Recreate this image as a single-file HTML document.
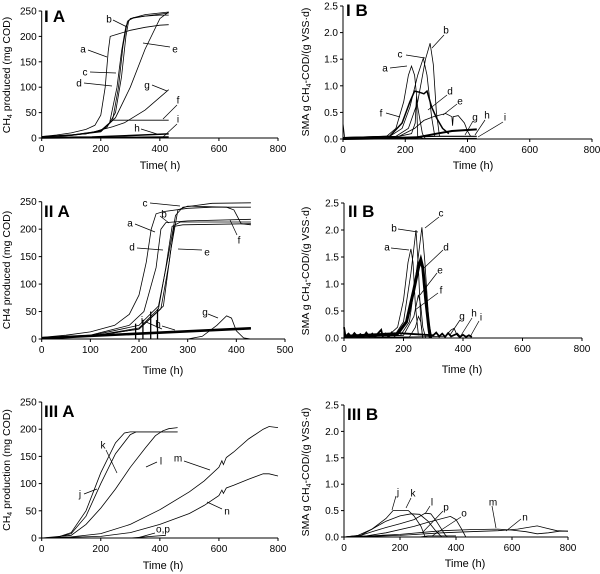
<!DOCTYPE html>
<html><head><meta charset="utf-8"><style>
body{margin:0;background:#fff;width:600px;height:574px;overflow:hidden}
svg{display:block;font-family:"Liberation Sans",Arial,sans-serif}
</style></head><body>
<svg id="fig" width="600" height="574" viewBox="0 0 600 574"></svg>
<script>
// ---------- data (time h, value) ----------
const IA_a=[[0,3],[50,6],[100,10],[150,17],[180,25],[200,45],[215,100],[225,170],[232,200],[260,205],[300,212],[350,218],[400,222],[430,223]];
const IA_b=[[0,2],[100,6],[180,12],[220,20],[250,50],[270,120],[285,200],[295,232],[310,236],[350,240],[400,242],[430,242]];
const IA_c=[[0,2],[100,6],[200,14],[230,30],[255,100],[270,170],[285,220],[300,235],[350,243],[430,248]];
const IA_d=[[0,2],[100,5],[200,13],[240,35],[260,100],[275,180],[290,230],[310,237],[430,246]];
const IA_e=[[0,2],[100,5],[200,12],[250,40],[300,100],[350,175],[400,235],[430,248]];
const IA_f=[[0,3],[150,8],[200,15],[240,35],[430,35]];
const IA_g=[[0,2],[150,8],[240,22],[280,30],[350,55],[430,95]];
const IA_h=[[0,1],[170,2],[300,5],[430,8]];
const IA_i=[[0,0],[430,2]];

const IB_a=[[0,0.3],[5,0.03],[140,0.05],[170,0.2],[195,0.7],[210,1.2],[220,1.37],[230,1.2],[240,0.6],[255,0.1],[265,0]];
const IB_b=[[0,0.02],[170,0.05],[210,0.2],[240,0.7],[265,1.5],[280,1.8],[290,1.4],[300,0.5],[310,0.05]];
const IB_c=[[0,0.03],[150,0.05],[190,0.2],[215,0.6],[240,1.2],[258,1.52],[270,1.2],[285,0.4],[295,0.05]];
const IB_d=[[0,0.02],[150,0.05],[190,0.3],[215,0.7],[230,0.9],[245,0.88],[260,0.85],[270,0.9],[285,0.6],[300,0.4],[320,0.2],[340,0.1]];
const IB_e=[[0,0.02],[180,0.05],[230,0.2],[260,0.35],[290,0.42],[310,0.45],[330,0.48],[350,0.42],[352,0.25],[354,0.42],[370,0.44],[390,0.3],[400,0.15],[410,0.05]];
const IB_f=[[0,0.02],[180,0.05],[220,0.1],[232,0.3],[236,0.8],[240,0.05],[260,0]];
const IB_g=[[0,0],[230,0.02],[300,0.1],[350,0.15],[430,0.18]];
const IB_h=[[0,0],[300,0.05],[430,0.05]];
const IB_i=[[0,0],[430,0.01]];

const IIA_a=[[0,3],[50,7],[100,13],[150,25],[180,45],[200,80],[215,140],[225,200],[235,228],[250,232],[300,238],[350,240],[430,240]];
const IIA_b=[[0,2],[100,7],[180,25],[210,50],[235,130],[245,200],[255,212],[300,215],[430,218]];
const IIA_c=[[0,2],[100,6],[200,25],[240,60],[260,150],[275,225],[290,240],[350,247],[430,248]];
const IIA_d=[[0,2],[100,5],[200,20],[240,55],[255,130],[268,205],[285,213],[430,213]];
const IIA_e=[[0,2],[100,5],[200,18],[245,55],[262,140],[272,205],[290,208],[430,210]];
const IIA_f=[[0,2],[100,5],[200,18],[250,60],[265,160],[280,235],[300,242],[380,240],[395,235],[410,210],[430,208]];
const IIA_g=[[300,0],[330,5],[360,25],[380,42],[390,38],[400,15],[415,2],[430,0]];
const IIA_h=[[0,2],[430,20]];
const IIA_i=[[0,0],[430,18]];
const IIA_spikeT=[193,208,224,238];
const IIA_spikeV=[28,35,50,55];

const IIB_a=[[0,0.04],[150,0.05],[180,0.2],[200,0.7],[215,1.4],[225,1.65],[232,1.4],[240,0.6],[250,0.05]];
const IIB_b=[[0,0.04],[170,0.05],[200,0.3],[225,1.2],[242,2.0],[250,1.3],[258,0.3],[265,0]];
const IIB_c=[[0,0.03],[190,0.05],[220,0.3],[245,1.3],[262,2.05],[272,1.4],[285,0.3],[295,0]];
const IIB_d=[[0,0.03],[180,0.08],[210,0.3],[235,0.9],[250,1.3],[258,1.45],[265,1.3],[275,0.7],[285,0.2],[290,0]];
const IIB_e=[[0,0],[200,0.05],[235,0.4],[250,0.8],[258,0.6],[265,0.2],[275,0]];
const IIB_f=[[0,0],[220,0.02],[240,0.2],[250,0.4],[258,0.3],[265,0]];
const IIB_g=[[0,0],[340,0.03],[360,0.15],[370,0.18],[380,0.05],[390,0]];
const IIB_noise=[[0,0.2],[5,0.03],[15,0.08],[25,0.02],[35,0.09],[45,0.03],[55,0.07],[65,0.02],[75,0.1],[85,0.03],[95,0.08],[105,0.02],[115,0.09],[125,0.15],[130,0.03],[140,0.08],[150,0.02],[160,0.1],[170,0.04],[180,0.09],[300,0.05],[310,0.1],[320,0.03],[330,0.08],[340,0.02],[350,0.09],[360,0.03],[380,0.08],[390,0.02],[400,0.06],[410,0.02],[420,0.05],[430,0.02]];

const IIIA_j=[[0,0],[50,1],[100,10],[150,50],[200,120],[250,175],[280,193],[300,195],[460,195]];
const IIIA_k=[[0,0],[50,1],[100,8],[150,40],[200,100],[250,155],[300,190],[320,195],[460,195]];
const IIIA_l=[[0,0],[100,5],[150,25],[200,55],[250,90],[300,130],[350,165],[385,188],[410,197],[430,201],[460,203]];
const IIIA_m=[[0,0],[100,2],[200,8],[300,25],[400,52],[500,85],[550,105],[600,130],[610,142],[615,135],[625,148],[650,158],[700,182],[750,200],[770,205],[800,203]];
const IIIA_n=[[0,0],[200,3],[300,10],[400,25],[500,45],[550,60],[600,78],[610,88],[615,82],[625,92],[650,97],[700,108],[750,118],[770,118],[800,114]];
const IIIA_op=[[300,0],[350,2],[420,5]];

const IIIB_j=[[0,0],[50,0.03],[100,0.15],[150,0.35],[175,0.5],[230,0.5],[250,0.4],[275,0.2],[290,0]];
const IIIB_k=[[0,0],[60,0.03],[100,0.15],[150,0.3],[200,0.4],[240,0.44],[270,0.43],[300,0.3],[330,0.1],[350,0]];
const IIIB_l=[[0,0],[60,0.03],[100,0.1],[150,0.18],[200,0.25],[250,0.33],[290,0.45],[310,0.44],[330,0.3],[360,0.05],[370,0]];
const IIIB_p=[[0,0],[80,0.02],[150,0.08],[250,0.2],[300,0.28],[380,0.39],[400,0.33],[420,0.15],[435,0]];
const IIIB_m=[[0,0],[200,0.05],[350,0.12],[450,0.14],[550,0.15],[600,0.13],[650,0.1],[690,0.06],[730,0.08],[770,0.11],[800,0.11]];
const IIIB_n=[[0,0],[200,0.03],[350,0.08],[450,0.1],[550,0.12],[620,0.15],[690,0.21],[720,0.17],[760,0.12],[800,0.11]];
const IIIB_o=[[270,0],[300,0.02],[400,0.02]];

const tickA800=[0,200,400,600,800], tickA500=[0,100,200,300,400,500];
const tickY250=[0,50,100,150,200,250];
const tickY25=[0,0.5,1.0,1.5,2.0,2.5];

// ---------- drawing ----------
const NS="http://www.w3.org/2000/svg";
const svg=document.getElementById('fig');
function el(tag,attrs,parent){const e=document.createElementNS(NS,tag);for(const k in attrs)e.setAttribute(k,attrs[k]);(parent||svg).appendChild(e);return e;}

function panel(cfg){
  const g=el('g',{});
  
  
  const sx=t=>cfg.x0+(t-cfg.xmin)/(cfg.xmax-cfg.xmin)*(cfg.x1-cfg.x0);
  const sy=v=>cfg.y0-(v-cfg.ymin)/(cfg.ymax-cfg.ymin)*(cfg.y0-cfg.y1);
  const ax=el('path',{d:`M${cfg.x0},${cfg.y1}V${cfg.y0}H${cfg.x1}`,fill:'none',stroke:'#000','stroke-width':1},g);
  
  
  cfg.xt.forEach(t=>{
    el('line',{x1:sx(t),x2:sx(t),y1:cfg.y0,y2:cfg.y0+3,stroke:'#000'},g);
    const tx=el('text',{x:sx(t),y:cfg.y0+14,'font-size':10,'text-anchor':'middle'},g);
    tx.textContent=t;
    
    
  });
  cfg.yt.forEach(v=>{
    el('line',{x1:cfg.x0-3,x2:cfg.x0,y1:sy(v),y2:sy(v),stroke:'#000'},g);
    const tx=el('text',{x:cfg.x0-5,y:sy(v)+3.5,'font-size':10,'text-anchor':'end'},g);
    tx.textContent=cfg.yfmt?v.toFixed(1):v;
    
    
  });
  const xl=el('text',{x:cfg.xl[0],y:cfg.xl[1],'font-size':11,'text-anchor':'middle'},g);
  xl.textContent=cfg.xlabel;
  
  
  const yl=el('text',{x:0,y:0,'font-size':10.5,'text-anchor':'middle',transform:`translate(${cfg.yl[0]},${cfg.yl[1]}) rotate(-90)`},g);
  yl.innerHTML=cfg.ylabel;
  
  
  const ti=el('text',{x:cfg.title[0],y:cfg.title[1],'font-size':17,'font-weight':'bold'},g);
  ti.textContent=cfg.titleText;
  
  
  cfg.series.forEach(s=>{
    const p=el('path',{d:s.data.map((d,i)=>(i?'L':'M')+sx(d[0]).toFixed(1)+','+sy(d[1]).toFixed(1)).join(''),fill:'none',stroke:'#000','stroke-width':s.w||0.8},g);
    
    
  });
  if(cfg.spikes){
    cfg.spikes[0].forEach((t,i)=>{
      const l=el('line',{x1:sx(t),x2:sx(t),y1:cfg.y0,y2:sy(cfg.spikes[1][i]),stroke:'#000','stroke-width':1.3},g);
      
      
    });
  }
  cfg.labels.forEach(L=>{
    const l=el('line',{x1:L[3],y1:L[4],x2:L[5],y2:L[6],stroke:'#000','stroke-width':0.7},g);
    
    
    const t=el('text',{x:L[1],y:L[2]+3.5,'font-size':10,'text-anchor':'middle'},g);
    t.textContent=L[0];
    
    
  });
}

const yA='CH<tspan font-size="7" dy="2">4</tspan><tspan dy="-2"> produced (mg COD)</tspan>';
const yB='SMA g CH<tspan font-size="7" dy="2">4</tspan><tspan dy="-2">-COD/(g VSS·d)</tspan>';

panel({name:'panel-IA',x0:41.7,x1:278,y0:138,y1:11,xmin:0,xmax:800,ymin:0,ymax:250,xt:tickA800,yt:tickY250,
 xlabel:'Time( h)',xl:[160,169],ylabel:yA,yl:[10,75],title:[44,22],titleText:'I A',
 series:[{id:'a',data:IA_a},{id:'b',data:IA_b},{id:'c',data:IA_c},{id:'d',data:IA_d},{id:'e',data:IA_e},{id:'f',data:IA_f},{id:'g',data:IA_g},{id:'h',data:IA_h,w:1.5},{id:'i',data:IA_i,w:1.5}],
 labels:[['a',83,49,88,50,107,57],['b',109,19,113,20,127,27],['c',85,72,90,72,116,73],['d',79,83,84,83,112,86],['e',175,49,170,47,143,43],['g',147,85,152,85,167,91],['f',178,100,177,105,163,119],['h',137,128,141,129,157,134],['i',178,119,177,124,163,137]]});

panel({name:'panel-IB',x0:343,x1:592,y0:139,y1:6,xmin:0,xmax:800,ymin:0,ymax:2.5,xt:tickA800,yt:tickY25,yfmt:1,
 xlabel:'Time (h)',xl:[473,169],ylabel:yB,yl:[309,72],title:[346,16],titleText:'I B',
 series:[{id:'a',data:IB_a},{id:'b',data:IB_b},{id:'c',data:IB_c},{id:'d',data:IB_d,w:1.5},{id:'e',data:IB_e},{id:'f',data:IB_f},{id:'g',data:IB_g,w:2},{id:'h',data:IB_h,w:1.2},{id:'i',data:IB_i,w:1.2}],
 labels:[['b',446,30,444,35,432,48],['c',400,54,406,55,425,58],['a',385,68,390,68,407,66],['d',450,91,447,95,428,110],['e',460,101,457,104,443,115],['f',381,113,386,113,400,117],['g',475,117,473,121,465,135],['h',487,115,485,120,475,135],['i',505,117,503,122,478,137]]});

panel({name:'panel-IIA',x0:41.7,x1:285,y0:339,y1:201.7,xmin:0,xmax:500,ymin:0,ymax:250,xt:tickA500,yt:tickY250,
 xlabel:'Time (h)',xl:[163,374],ylabel:'CH4 produced (mg COD)',yl:[10,270],title:[44,217],titleText:'II A',
 series:[{id:'a',data:IIA_a},{id:'b',data:IIA_b},{id:'c',data:IIA_c},{id:'d',data:IIA_d},{id:'e',data:IIA_e},{id:'f',data:IIA_f},{id:'g',data:IIA_g},{id:'h',data:IIA_h,w:2},{id:'i',data:IIA_i,w:1}],
 spikes:[IIA_spikeT,IIA_spikeV],
 labels:[['c',145,203,150,203,180,206],['b',164,214,160,216,169,223],['a',130,223,135,224,155,232],['d',132,247,137,248,163,250],['e',207,252,202,250,178,249],['f',239,240,237,235,230,220],['g',205,312,208,314,218,318],['h',158,324,162,326,175,330],['i',142,320,146,322,162,329]]});

panel({name:'panel-IIB',x0:344,x1:582,y0:338,y1:203,xmin:0,xmax:800,ymin:0,ymax:2.5,xt:tickA800,yt:tickY25,yfmt:1,
 xlabel:'Time (h)',xl:[462,373],ylabel:yB,yl:[309,271],title:[348,217],titleText:'II B',
 series:[{id:'noise',data:IIB_noise,w:1.8},{id:'a',data:IIB_a},{id:'b',data:IIB_b},{id:'c',data:IIB_c},{id:'d',data:IIB_d,w:3},{id:'e',data:IIB_e},{id:'f',data:IIB_f},{id:'g',data:IIB_g}],
 labels:[['c',441,213,439,217,425,228],['b',394,228,398,229,418,232],['a',387,247,391,248,409,250],['d',446,247,443,250,424,268],['e',440,270,437,273,420,295],['f',441,290,438,293,415,310],['g',462,316,460,320,450,335],['h',474,313,472,318,460,337],['i',481,317,479,321,470,337]]});

panel({name:'panel-IIIA',x0:41.7,x1:278,y0:538,y1:402,xmin:0,xmax:800,ymin:0,ymax:250,xt:tickA800,yt:tickY250,
 xlabel:'Time (h)',xl:[163,569],ylabel:yA.replace('produced','production'),yl:[10,470],title:[44,417],titleText:'III A',
 series:[{id:'j',data:IIIA_j},{id:'k',data:IIIA_k},{id:'l',data:IIIA_l},{id:'m',data:IIIA_m},{id:'n',data:IIIA_n},{id:'op',data:IIIA_op}],
 labels:[['k',103,445,106,450,117,473],['j',80,494,84,494,97,489],['l',161,461,157,462,146,467],['m',178,458,184,461,210,470],['n',227,511,222,509,207,502],['o,p',163,529,155,533,137,538]]});

panel({name:'panel-IIIB',x0:344,x1:568,y0:537,y1:405,xmin:0,xmax:800,ymin:0,ymax:2.5,xt:tickA800,yt:tickY25,yfmt:1,
 xlabel:'Time (h)',xl:[465,567],ylabel:yB,yl:[309,472],title:[347,420],titleText:'III B',
 series:[{id:'j',data:IIIB_j},{id:'k',data:IIIB_k},{id:'l',data:IIIB_l},{id:'p',data:IIIB_p},{id:'m',data:IIIB_m},{id:'n',data:IIIB_n},{id:'o',data:IIIB_o}],
 labels:[['j',398,492,396,496,392,510],['k',413,493,411,498,406,508],['l',432,502,430,506,425,514],['p',446,507,443,511,422,533],['o',464,513,461,517,432,536],['m',493,502,492,506,496,528],['n',525,517,521,519,506,531]]});
</script>
</body></html>
